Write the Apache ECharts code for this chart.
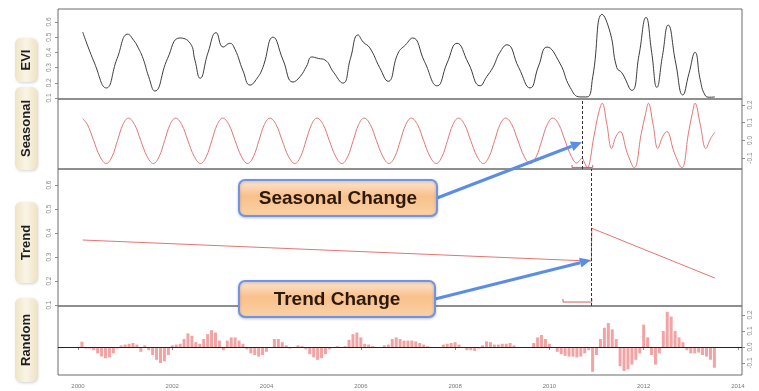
<!DOCTYPE html>
<html><head><meta charset="utf-8">
<script src="https://cdn.jsdelivr.net/npm/echarts@6/dist/echarts.min.js"></script>
<style>html,body{margin:0;padding:0;background:#fff}#c{width:759px;height:391px}</style>
</head><body><div id="c"></div>
<script>
// ---------- data ----------
const xTicks = [2000, 2002, 2004, 2006, 2008, 2010, 2012, 2014];
const eviTicks = [0.1, 0.2, 0.3, 0.4, 0.5, 0.6];
const seasonalTicks = [-0.1, 0.0, 0.1, 0.2];
const trendTicks = [0.1, 0.2, 0.3, 0.4, 0.5, 0.6];
const randomTicks = [-0.1, 0.0, 0.1, 0.2];
const panelNames = ['EVI', 'Seasonal', 'Trend', 'Random'];
const calloutTexts = ['Seasonal Change', 'Trend Change'];

const eviPoints = [
[2000.10,0.534],[2000.35,0.33],[2000.60,0.166],[2000.83,0.36],[2001.06,0.52],[2001.18,0.48],[2001.27,0.435],[2001.38,0.36],[2001.50,0.24],[2001.63,0.146],
[2001.90,0.36],[2002.16,0.495],[2002.38,0.46],[2002.48,0.35],[2002.59,0.23],[2002.76,0.40],[2002.93,0.53],[2003.08,0.435],[2003.22,0.46],[2003.33,0.42],
[2003.50,0.28],[2003.65,0.185],[2003.80,0.23],[2003.92,0.30],[2004.14,0.50],[2004.35,0.35],[2004.56,0.205],[2004.71,0.24],[2004.85,0.31],[2004.96,0.37],
[2005.10,0.36],[2005.24,0.35],[2005.42,0.27],[2005.62,0.198],[2005.78,0.36],[2005.94,0.515],[2006.05,0.468],[2006.19,0.43],[2006.40,0.30],[2006.58,0.21],
[2006.79,0.395],[2006.95,0.45],[2007.10,0.495],[2007.35,0.34],[2007.62,0.18],[2007.83,0.33],[2008.04,0.46],[2008.28,0.33],[2008.53,0.18],[2008.67,0.24],
[2008.80,0.30],[2008.95,0.40],[2009.10,0.45],[2009.35,0.30],[2009.59,0.166],[2009.77,0.31],[2009.95,0.435],[2010.22,0.33],[2010.44,0.17],[2010.65,0.107],
[2010.80,0.107],[2010.92,0.24],[2011.12,0.65],[2011.29,0.53],[2011.43,0.30],[2011.54,0.265],[2011.75,0.15],[2011.90,0.38],[2012.05,0.63],[2012.17,0.40],
[2012.28,0.17],[2012.40,0.38],[2012.52,0.58],[2012.68,0.33],[2012.83,0.12],[2012.96,0.26],[2013.09,0.40],[2013.20,0.22],[2013.30,0.12],[2013.40,0.105],
[2013.51,0.107]
];

const seasonalPoints = [
[2000.10,0.122],[2000.20,0.09],[2000.33,0],[2000.47,-0.093],[2000.60,-0.131],[2000.72,-0.093],[2000.84,0],[2000.955,0.09],
[2001.07,0.126],[2001.20,0.09],[2001.33,0],[2001.47,-0.093],[2001.60,-0.131],[2001.72,-0.093],[2001.84,0],[2001.955,0.09],
[2002.07,0.126],[2002.20,0.09],[2002.33,0],[2002.47,-0.093],[2002.60,-0.131],[2002.72,-0.093],[2002.84,0],[2002.955,0.09],
[2003.07,0.126],[2003.20,0.09],[2003.33,0],[2003.47,-0.093],[2003.60,-0.131],[2003.72,-0.093],[2003.84,0],[2003.955,0.09],
[2004.07,0.126],[2004.20,0.09],[2004.33,0],[2004.47,-0.093],[2004.60,-0.131],[2004.72,-0.093],[2004.84,0],[2004.955,0.09],
[2005.07,0.126],[2005.20,0.09],[2005.33,0],[2005.47,-0.093],[2005.60,-0.131],[2005.72,-0.093],[2005.84,0],[2005.955,0.09],
[2006.07,0.126],[2006.20,0.09],[2006.33,0],[2006.47,-0.093],[2006.60,-0.131],[2006.72,-0.093],[2006.84,0],[2006.955,0.09],
[2007.07,0.126],[2007.20,0.09],[2007.33,0],[2007.47,-0.093],[2007.60,-0.131],[2007.72,-0.093],[2007.84,0],[2007.955,0.09],
[2008.07,0.126],[2008.20,0.09],[2008.33,0],[2008.47,-0.093],[2008.60,-0.131],[2008.72,-0.093],[2008.84,0],[2008.955,0.09],
[2009.07,0.126],[2009.20,0.09],[2009.33,0],[2009.47,-0.093],[2009.60,-0.131],[2009.72,-0.093],[2009.84,0],[2009.955,0.09],
[2010.07,0.126],[2010.20,0.09],[2010.33,0],[2010.47,-0.093],[2010.58,-0.128],[2010.64,-0.115],[2010.69,-0.10],[2010.75,-0.13],[2010.80,-0.155],
[2010.95,0.03],[2011.04,0.15],[2011.12,0.21],[2011.22,0.09],[2011.32,-0.046],[2011.41,0.02],[2011.50,0.05],[2011.65,-0.07],[2011.80,-0.155],
[2011.95,0.04],[2012.04,0.15],[2012.10,0.21],[2012.20,0.09],[2012.30,-0.046],[2012.40,0.02],[2012.49,0.05],[2012.65,-0.07],[2012.81,-0.155],
[2012.95,0.04],[2013.03,0.15],[2013.09,0.21],[2013.20,0.09],[2013.32,-0.046],[2013.42,0.01],[2013.51,0.046]
];

const trendPoints = [[2000.10,0.371],[2010.89,0.283],[2010.90,0.42],[2013.51,0.2125]];

// monthly remainder, starting Feb 2000
const randomStart = 2000 + 1/12;
const randomFreq = 12;
const randomValues = [
 0.033,-0.01,-0.01,-0.02,-0.04,-0.06,-0.07,-0.065,-0.04,-0.01,0.01,
 0.015,0.02,0.025,0.015,-0.03,0.01,-0.02,-0.05,-0.08,-0.10,-0.09,-0.05,
 0.01,0.015,0.02,0.05,0.085,0.07,0.03,0.02,0.05,0.08,0.105,0.09,
 0.04,-0.02,0.04,0.06,0.06,0.04,0.02,-0.015,-0.04,-0.05,-0.06,-0.05,
 -0.03,0.0,0.05,0.05,0.03,0.01,-0.01,0.0,0.01,0.005,-0.015,-0.045,
 -0.065,-0.08,-0.07,-0.045,-0.015,0.0,0.005,0.0,0.005,0.045,0.08,0.09,
 0.06,0.02,0.015,0.005,-0.005,0.0,0.01,0.015,0.05,0.06,0.05,0.04,
 0.04,0.04,0.035,0.025,0.015,0.005,0.0,0.0,0.0,0.015,0.02,0.025,
 0.03,0.015,0.0,-0.02,-0.02,-0.025,-0.01,0.01,0.035,0.03,0.015,0.015,
 0.02,0.02,0.025,0.01,0.0,-0.005,-0.005,0.0,0.025,0.06,0.075,0.05,
 0.02,0.0,-0.03,-0.045,-0.055,-0.06,-0.06,-0.065,-0.06,-0.04,-0.02,-0.155,
 -0.05,0.05,0.12,0.15,0.11,0.05,-0.12,-0.15,-0.14,-0.11,-0.08,-0.04,
 0.14,0.06,-0.05,-0.11,-0.04,0.10,0.22,0.19,0.10,0.06,0.03,-0.02,
 -0.04,-0.04,-0.035,-0.05,-0.06,-0.08,-0.13
];

const seasonalBreak = 2010.69;
const trendBreak = 2010.88;
const seasonalCI = [2010.48, 2010.92];
const trendCI = [2010.29, 2010.90];
const seasonalCILevel = -0.153;
const trendCILevel = 0.1125;

// ---------- chart ----------
const chart = echarts.init(document.getElementById('c'), null, {renderer: 'canvas'});
const X_MIN = 1999.576, X_MAX = 2014.086;
const gridDefs = [
  {top: 9, height: 90},
  {top: 99, height: 70},
  {top: 169, height: 137},
  {top: 306, height: 69}
];
const yRanges = [[0.0934, 0.6855], [-0.162, 0.234], [0.096, 0.667], [-0.175, 0.256]];
const yTickSets = [eviTicks, seasonalTicks, trendTicks, randomTicks];
const yPos = ['left', 'right', 'left', 'right'];
const tickColor = '#8c8c8c';
const redLine = '#e47474';

const grids = gridDefs.map(g => ({left: 58, right: 17, top: g.top, height: g.height,
  show: true, borderColor: '#6a6a6a', borderWidth: 1, backgroundColor: 'transparent'}));

const xAxes = gridDefs.map((g, i) => ({
  type: 'value', gridIndex: i, min: X_MIN, max: X_MAX,
  axisLine: {show: false}, splitLine: {show: false},
  axisTick: {show: i === 3, length: 3, lineStyle: {color: tickColor}, customValues: xTicks},
  axisLabel: {show: i === 3, customValues: xTicks, fontSize: 6, color: '#7a7a7a', margin: 8,
    fontFamily: 'Liberation Sans', formatter: v => String(Math.round(v))}
}));

const yAxes = gridDefs.map((g, i) => ({
  type: 'value', gridIndex: i, position: yPos[i], min: yRanges[i][0], max: yRanges[i][1],
  axisLine: {show: false}, splitLine: {show: false},
  axisTick: {show: true, length: 3, lineStyle: {color: tickColor}, customValues: yTickSets[i]},
  axisLabel: {show: true, customValues: yTickSets[i], fontSize: 6.5, color: '#8a8a8a', rotate: 90, margin: 5,
    fontFamily: 'Liberation Sans', formatter: v => v.toFixed(1)}
}));

const randomData = randomValues.map((v, i) => [randomStart + i / randomFreq, v]);

const dashMark = (x) => ({silent: true, symbol: 'none', animation: false, label: {show: false},
  lineStyle: {color: '#333', width: 1, type: [3, 2]}, data: [{xAxis: x}]});

const series = [
  {type: 'line', xAxisIndex: 0, yAxisIndex: 0, data: eviPoints, smooth: 0.5, symbol: 'none',
    lineStyle: {color: '#3c3c3c', width: 1}},
  {type: 'line', xAxisIndex: 1, yAxisIndex: 1, data: seasonalPoints, smooth: 0.4, symbol: 'none',
    lineStyle: {color: redLine, width: 1}, markLine: dashMark(seasonalBreak)},
  {type: 'line', xAxisIndex: 1, yAxisIndex: 1, symbol: 'none', lineStyle: {color: '#d85a5a', width: 1},
    data: [[seasonalCI[0], seasonalCILevel + 0.014], [seasonalCI[0], seasonalCILevel], [seasonalCI[1], seasonalCILevel], [seasonalCI[1], seasonalCILevel + 0.014]]},
  {type: 'line', xAxisIndex: 2, yAxisIndex: 2, data: trendPoints, symbol: 'none',
    lineStyle: {color: redLine, width: 1}, markLine: dashMark(trendBreak)},
  {type: 'line', xAxisIndex: 2, yAxisIndex: 2, symbol: 'none', lineStyle: {color: '#d85a5a', width: 1},
    data: [[trendCI[0], trendCILevel + 0.013], [trendCI[0], trendCILevel], [trendCI[1], trendCILevel], [trendCI[1], trendCILevel + 0.013]]},
  {type: 'bar', xAxisIndex: 3, yAxisIndex: 3, data: randomData, barWidth: 3,
    itemStyle: {color: '#f2a3a3'},
    markLine: {silent: true, symbol: 'none', animation: false, label: {show: false},
      lineStyle: {color: '#222', width: 1, type: 'solid'}, data: [{yAxis: 0}]}}
];

chart.setOption({animation: false, grid: grids, xAxis: xAxes, yAxis: yAxes, series: series});

// ---------- annotations ----------
const labelBoxes = [[38, 82], [87, 170], [202, 283], [298, 382]];
const graphics = [];
labelBoxes.forEach((b, i) => {
  graphics.push({type: 'rect', shape: {x: 15, y: b[0], width: 22, height: b[1] - b[0], r: 6},
    style: {fill: new echarts.graphic.LinearGradient(0, 0, 1, 0, [
      {offset: 0, color: '#efe4c4'}, {offset: 0.5, color: '#f9f4e6'}, {offset: 1, color: '#efe4c4'}]),
      shadowBlur: 3, shadowColor: 'rgba(0,0,0,0.18)', shadowOffsetX: 1, shadowOffsetY: 1}, z: 10});
  graphics.push({type: 'text', x: 26.5, y: (b[0] + b[1]) / 2, rotation: Math.PI / 2, z: 11,
    style: {text: panelNames[i], font: 'bold 13px "Liberation Sans", Arial, sans-serif', fill: '#1e1e1e',
      align: 'center', verticalAlign: 'middle'}});
});

const callouts = [
  {box: [239, 180, 198, 36], tip: chart.convertToPixel({gridIndex: 1}, [seasonalBreak, -0.011])},
  {box: [239, 281, 196, 36], tip: chart.convertToPixel({gridIndex: 2}, [trendBreak, 0.2875])}
];
callouts.forEach((c, i) => {
  const [bx, by, bw, bh] = c.box;
  const sx = bx + bw, sy = by + bh / 2;
  const [px, py] = c.tip;
  const dx = px - sx, dy = py - sy, len = Math.hypot(dx, dy);
  const ux = dx / len, uy = dy / len;
  const L = 11, W = 5;
  const bxp = px - ux * L, byp = py - uy * L;
  graphics.push({type: 'line', z: 20, shape: {x1: sx, y1: sy, x2: bxp, y2: byp},
    style: {stroke: '#5b8de4', lineWidth: 3}});
  graphics.push({type: 'polygon', z: 20, shape: {points: [[px, py], [bxp - uy * W, byp + ux * W], [bxp + uy * W, byp - ux * W]]},
    style: {fill: '#5b8de4'}});
  graphics.push({type: 'rect', z: 21, shape: {x: bx, y: by, width: bw, height: bh, r: 6},
    style: {fill: new echarts.graphic.LinearGradient(0, 0, 0, 1, [
      {offset: 0, color: '#fde9d8'}, {offset: 0.45, color: '#f9c08b'}, {offset: 1, color: '#fbd2a8'}]),
      stroke: '#6f93e6', lineWidth: 2, shadowBlur: 3, shadowColor: 'rgba(0,0,0,0.2)', shadowOffsetY: 1}});
  graphics.push({type: 'text', z: 22, x: bx + bw / 2, y: by + bh / 2 + 1,
    style: {text: calloutTexts[i], font: 'bold 19px "Liberation Sans", Arial, sans-serif', fill: '#2a1a0e',
      align: 'center', verticalAlign: 'middle'}});
});
chart.setOption({graphic: graphics});
</script></body></html>
